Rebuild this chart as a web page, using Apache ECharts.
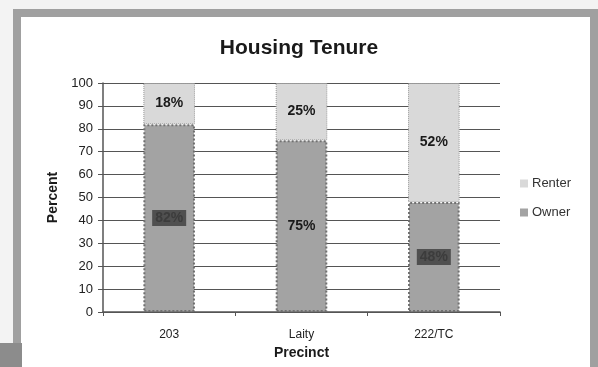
<!DOCTYPE html>
<html><head><meta charset="utf-8">
<script src="https://cdn.jsdelivr.net/npm/echarts@6/dist/echarts.min.js"></script>
<style>
html,body{margin:0;padding:0;background:#f3f3f3;width:598px;height:367px;overflow:hidden;}
#frame{position:absolute;left:13px;top:9px;width:569px;height:400px;border:8px solid #a0a0a0;background:#fff;}
#blk{position:absolute;left:0;top:343px;width:22px;height:24px;background:#8c8c8c;}
#chart{position:absolute;left:0;top:0;width:598px;height:367px;}
</style></head>
<body>
<div id="frame"></div><div id="blk"></div>
<div id="chart"></div>
<script>
const categories = ['203', 'Laity', '222/TC'];
const owner = [82, 75, 48];
const renter = [18, 25, 52];
const yTicks = [0, 10, 20, 30, 40, 50, 60, 70, 80, 90, 100];

const font = "'Liberation Sans',sans-serif";
const chart = echarts.init(document.getElementById('chart'));
chart.setOption({
  animation: false,
  backgroundColor: 'transparent',
  title: {
    text: 'Housing Tenure', left: 'center', top: 33,
    textStyle: {fontFamily: font, fontSize: 21, fontWeight: 'bold', color: '#1a1a1a'}
  },
  legend: {
    orient: 'vertical', left: 515, top: 172, itemWidth: 8, itemHeight: 8, itemGap: 16,
    icon: 'rect',
    data: ['Renter', 'Owner'],
    itemStyle: {borderWidth: 0},
    textStyle: {fontFamily: font, fontSize: 13, color: '#333', padding: [0,0,0,-1]}
  },
  grid: {left: 103, right: 98, top: 83, bottom: 55},
  xAxis: {
    type: 'category', data: categories,
    name: 'Precinct', nameLocation: 'middle', nameGap: 26,
    nameTextStyle: {fontFamily: font, fontSize: 14, fontWeight: 'bold', color: '#1a1a1a'},
    axisLine: {lineStyle: {color: '#555', width: 1.5}},
    axisTick: {show: true, length: 4, lineStyle: {color: '#555'}},
    axisLabel: {fontFamily: font, fontSize: 12, color: '#222', margin: 17}
  },
  yAxis: {
    type: 'value', min: 0, max: 100, interval: 10,
    name: 'Percent', nameLocation: 'middle', nameGap: 37,
    nameTextStyle: {fontFamily: font, fontSize: 14, fontWeight: 'bold', color: '#1a1a1a'},
    axisLine: {show: true, lineStyle: {color: '#555', width: 1.5}},
    axisTick: {show: true, length: 5, lineStyle: {color: '#555'}},
    axisLabel: {fontFamily: font, fontSize: 13, color: '#222', margin: 10,
      formatter: v => yTicks.includes(v) ? String(v) : ''},
    splitLine: {lineStyle: {color: '#555', width: 1.2}}
  },
  series: [
    {
      name: 'Owner', type: 'bar', stack: 't', barWidth: '39%',
      itemStyle: {color: '#a3a3a3', borderColor: '#707070', borderWidth: 2, borderType: 'dotted'},
      label: {
        show: true, position: 'inside', formatter: p => p.value + '%',
        fontFamily: font, fontWeight: 'bold', fontSize: 14,
        color: '#3c3c3c', backgroundColor: '#505050', padding: [1, 3]
      },
      data: owner.map((v, i) => i === 1
        ? {value: v, label: {color: '#1a1a1a', backgroundColor: 'transparent'}}
        : v)
    },
    {
      name: 'Renter', type: 'bar', stack: 't', data: renter, barWidth: '39%',
      itemStyle: {color: '#d9d9d9', borderColor: '#9a9a9a', borderWidth: 1, borderType: 'dotted'},
      label: {
        show: true, position: 'inside', formatter: p => p.value + '%',
        fontFamily: font, fontWeight: 'bold', fontSize: 14, color: '#1a1a1a'
      }
    }
  ]
});
</script>
</body></html>
